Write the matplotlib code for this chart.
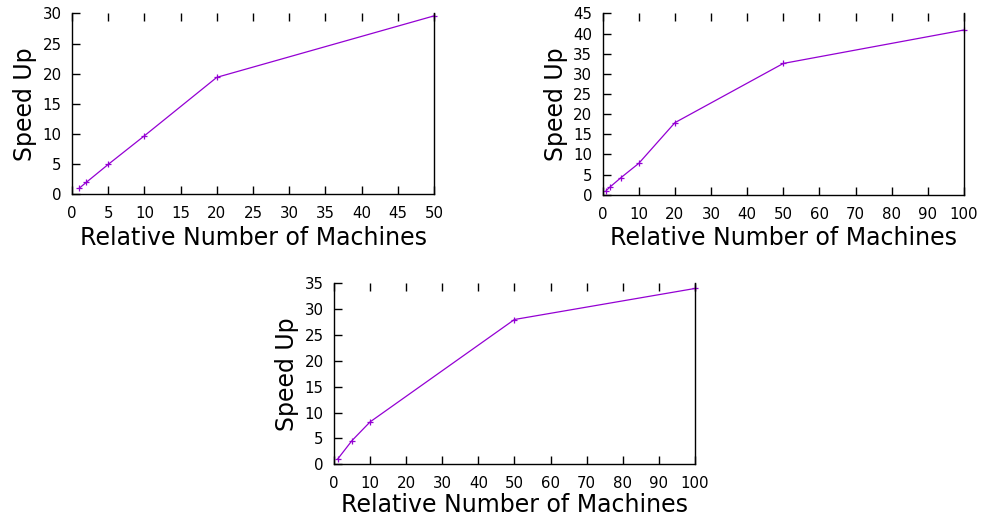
import matplotlib
matplotlib.use("Agg")
import matplotlib.pyplot as plt

# Data
x1 = [1, 2, 5, 10, 20, 50]
y1 = [1.0, 2.0, 4.95, 9.7, 19.4, 29.6]
x2 = [1, 2, 5, 10, 20, 50, 100]
y2 = [1.05, 1.9, 4.2, 7.8, 17.9, 32.6, 40.9]
x3 = [1, 5, 10, 50, 100]
y3 = [1.0, 4.6, 8.2, 28.0, 34.0]

xlabel = "Relative Number of Machines"
ylabel = "Speed Up"
color = "#9400D3"

plt.rcParams['font.family'] = ['DejaVu Sans']

fig = plt.figure(figsize=(9.82, 5.18), dpi=100)

panels = [
    ([0.0733, 0.625, 0.3687, 0.349], x1, y1, (0, 50), range(0, 51, 5), (0, 30), range(0, 31, 5), 3.5),
    ([0.6137, 0.624, 0.3680, 0.350], x2, y2, (0, 100), range(0, 101, 10), (0, 45), range(0, 46, 5), 3.5),
    ([0.3401, 0.1036, 0.3676, 0.3495], x3, y3, (0, 100), range(0, 101, 10), (0, 35), range(0, 36, 5), 1.0),
]

for rect, xs, ys, xl, xt, yl, yt, lp in panels:
    ax = fig.add_axes(rect)
    ax.plot(xs, ys, color=color, lw=0.9, marker='+', ms=5, mew=0.9, clip_on=False)
    ax.set_xlim(*xl)
    ax.set_ylim(*yl)
    ax.set_xticks(list(xt))
    ax.set_yticks(list(yt))
    ax.spines['top'].set_visible(False)
    for s in ['left', 'bottom', 'right']:
        ax.spines[s].set_linewidth(1.0)
    ax.tick_params(axis='both', direction='in', length=6, width=1, labelsize=10.8)
    ax.tick_params(axis='x', top=True, pad=8.5)
    ax.tick_params(axis='y', right=False, pad=7.5)
    ax.set_xlabel(xlabel, fontsize=17, labelpad=lp)
    ax.set_ylabel(ylabel, fontsize=17, labelpad=4)

fig.savefig("out.png", dpi=100)
